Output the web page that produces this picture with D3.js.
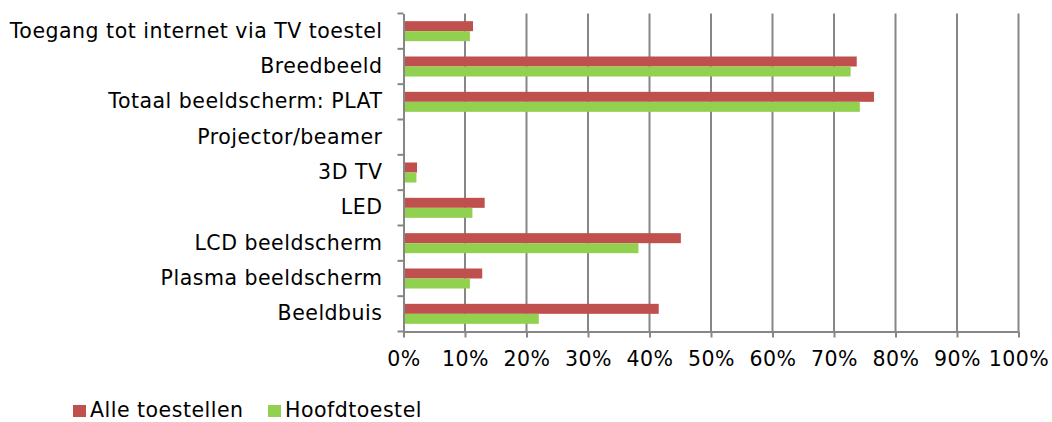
<!DOCTYPE html>
<html><head><meta charset="utf-8">
<script src="https://cdn.jsdelivr.net/npm/d3@7"></script>
<style>body{margin:0;background:#fff;} svg{display:block;}</style>
</head><body><svg id="c" width="1052" height="422"></svg>
<script>
const categories = ["Toegang tot internet via TV toestel","Breedbeeld","Totaal beeldscherm: PLAT","Projector/beamer","3D TV","LED","LCD beeldscherm","Plasma beeldscherm","Beeldbuis"];
const alleToestellen = [11.3, 73.7, 76.5, 0.2, 2.2, 13.2, 45.1, 12.8, 41.5];
const hoofdtoestel   = [10.8, 72.7, 74.2, 0.0, 2.1, 11.2, 38.2, 10.8, 22.0];
const seriesNames = ["Alle toestellen","Hoofdtoestel"];
const colors = ["#C0504D","#92D050"];
const xTicks = [0,10,20,30,40,50,60,70,80,90,100];

const svg = d3.select("#c");
const font = "DejaVu Sans, Verdana, sans-serif";
const fs = 20.5, ls = 0.5;
const m = {left:403.5, right:1018.5, top:13.5, bottom:331.5};
const x = d3.scaleLinear().domain([0,100]).range([m.left,m.right]);
const y = d3.scaleBand().domain(categories).range([m.top,m.bottom]);
const inner = d3.scaleBand().domain(seriesNames).range([0,20]);
const grp = (y.bandwidth()-20)/2;

// gridlines
svg.append("g").selectAll("line").data(xTicks.slice(1)).join("line")
  .attr("x1",d=>x(d)).attr("x2",d=>x(d)).attr("y1",m.top).attr("y2",m.bottom)
  .attr("stroke","#868686").attr("stroke-width",2);

// bars
const series = [alleToestellen, hoofdtoestel];
series.forEach((vals,si)=>{
  svg.append("g").selectAll("rect").data(vals).join("rect")
    .attr("x",x(0)).attr("y",(d,i)=>y(categories[i])+grp+inner(seriesNames[si]))
    .attr("width",d=>x(d)-x(0)).attr("height",inner.bandwidth())
    .attr("fill",colors[si]);
});

// y axis
const ya = svg.append("g").attr("transform",`translate(${m.left},0)`)
  .call(d3.axisLeft(y).tickSize(0).tickPadding(21));
ya.select(".domain").attr("stroke","#868686").attr("stroke-width",2);
ya.selectAll("text").attr("font-family",font).attr("font-size",fs).attr("letter-spacing",ls).attr("fill","#000");
// category boundary ticks
const bounds = categories.map(c=>y(c)).concat([m.bottom]);
svg.append("g").selectAll("line").data(bounds).join("line")
  .attr("x1",m.left-6).attr("x2",m.left).attr("y1",d=>d).attr("y2",d=>d)
  .attr("stroke","#868686").attr("stroke-width",2);

// x axis
const xa = svg.append("g").attr("transform",`translate(0,${m.bottom})`)
  .call(d3.axisBottom(x).tickValues(xTicks).tickFormat(d=>d+"%").tickSize(6).tickSizeOuter(0).tickPadding(14));
xa.select(".domain").attr("stroke","#868686").attr("stroke-width",2);
xa.selectAll("line").attr("stroke","#868686").attr("stroke-width",2);
xa.selectAll("text").attr("font-family",font).attr("font-size",fs).attr("letter-spacing",ls).attr("fill","#000");

// legend
const leg = svg.append("g");
const lx = [73, 268];
seriesNames.forEach((n,i)=>{
  leg.append("rect").attr("x",lx[i]).attr("y",405).attr("width",13).attr("height",12).attr("fill",colors[i]);
  leg.append("text").attr("x",lx[i]+17).attr("y",417).text(n)
    .attr("font-family",font).attr("font-size",fs).attr("letter-spacing",ls).attr("fill","#000");
});
</script></body></html>
